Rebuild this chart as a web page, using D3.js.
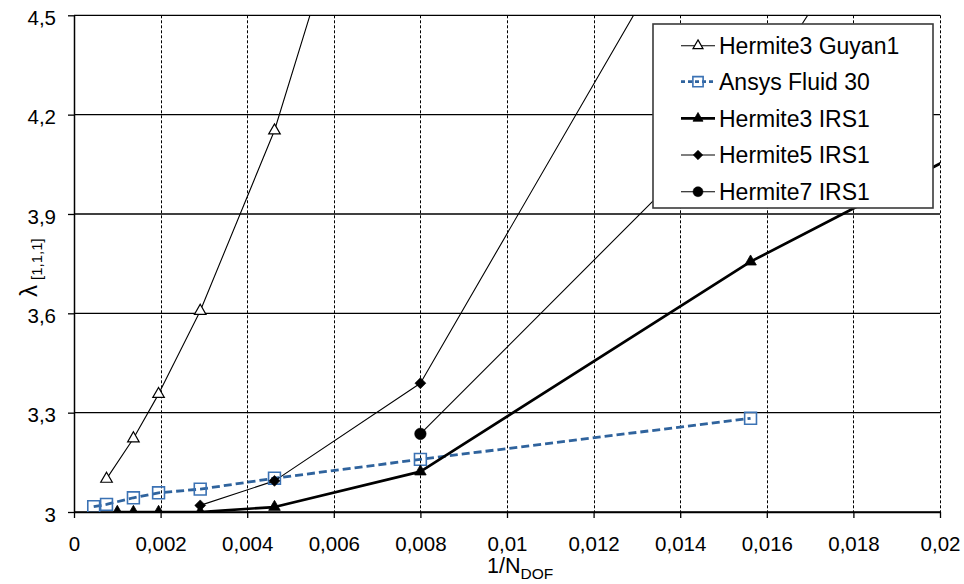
<!DOCTYPE html>
<html>
<head>
<meta charset="utf-8">
<script src="https://cdn.jsdelivr.net/npm/d3@7/dist/d3.min.js"></script>
<style>
  html, body { margin: 0; padding: 0; background: #fff; }
  svg { display: block; font-family: "Liberation Sans", Arial, sans-serif; }
</style>
</head>
<body>
<svg id="chart" width="964" height="584"></svg>
<script>
// Mesh refinement study: eigenvalue λ[1,1,1] vs 1/N_DOF
const xTickValues = [0, 0.002, 0.004, 0.006, 0.008, 0.01, 0.012, 0.014, 0.016, 0.018, 0.02];
const xTickLabels = ["0", "0,002", "0,004", "0,006", "0,008", "0,01", "0,012", "0,014", "0,016", "0,018", "0,02"];
const yTickValues = [3, 3.3, 3.6, 3.9, 4.2, 4.5];
const yTickLabels = ["3", "3,3", "3,6", "3,9", "4,2", "4,5"];

const guyanX = [0.000751, 0.001372, 0.001953, 0.002915, 0.00463, 0.008];
const guyanY = [3.100, 3.222, 3.356, 3.607, 4.152, 5.584];

const ansysX = [0.000455, 0.000751, 0.001372, 0.001953, 0.002915, 0.00463, 0.008, 0.015625];
const ansysY = [3.016, 3.023, 3.043, 3.058, 3.069, 3.102, 3.159, 3.283];

const h3irsX = [0.001, 0.001372, 0.001953, 0.002915, 0.00463, 0.008, 0.015625, 0.037037];
const h3irsY = [3.000, 3.000, 3.000, 3.000, 3.015, 3.122, 3.756, 5.205];

const h5irsX = [0.002915, 0.00463, 0.008, 0.015625];
const h5irsY = [3.020, 3.094, 3.389, 5.110];

const h7irsX = [0.008, 0.015625, 0.037037];
const h7irsY = [3.236, 4.234, 8.550];

const seriesNames = ["Hermite3 Guyan1", "Ansys Fluid 30", "Hermite3 IRS1", "Hermite5 IRS1", "Hermite7 IRS1"];

const blueLine = "#2f639d";
const blueMark = "#3b72b4";

// Diamond drawn as a square turned by 45°
const symbolRhomb = {
  draw(context, size) {
    const r = Math.sqrt(size / 2);
    context.moveTo(0, -r);
    context.lineTo(r, 0);
    context.lineTo(0, r);
    context.lineTo(-r, 0);
    context.closePath();
  }
};

const series = [
  { name: seriesNames[0], xs: guyanX, ys: guyanY, stroke: "#000", width: 1.1, dash: null,
    symbol: d3.symbolTriangle, size: 58, fill: "#fff", mstroke: "#000", mwidth: 1.2 },
  { name: seriesNames[1], xs: ansysX, ys: ansysY, stroke: blueLine, width: 2.8, dash: "8,4",
    symbol: d3.symbolSquare, size: 140, fill: "none", mstroke: blueMark, mwidth: 1.6 },
  { name: seriesNames[2], xs: h3irsX, ys: h3irsY, stroke: "#000", width: 2.7, dash: null,
    symbol: d3.symbolTriangle, size: 58, fill: "#000", mstroke: "#000", mwidth: 0.8 },
  { name: seriesNames[3], xs: h5irsX, ys: h5irsY, stroke: "#000", width: 1.1, dash: null,
    symbol: symbolRhomb, size: 60, fill: "#000", mstroke: "#000", mwidth: 0.6 },
  { name: seriesNames[4], xs: h7irsX, ys: h7irsY, stroke: "#000", width: 1.1, dash: null,
    symbol: d3.symbolCircle, size: 105, fill: "#000", mstroke: "#000", mwidth: 0.5 }
];

const svg = d3.select("#chart");
const plot = { left: 74, right: 940, top: 15.3, bottom: 512 };

const x = d3.scaleLinear().domain([0, 0.02]).range([plot.left, plot.right]);
const y = d3.scaleLinear().domain([3, 4.5]).range([plot.bottom, plot.top]);

svg.append("defs").append("clipPath").attr("id", "plotClip")
  .append("rect")
  .attr("x", plot.left).attr("y", plot.top)
  .attr("width", plot.right - plot.left).attr("height", plot.bottom - plot.top);

// Vertical dashed grid
svg.append("g").selectAll("line")
  .data(xTickValues.filter(v => v > 0))
  .join("line")
  .attr("x1", d => Math.round(x(d)) + 0.5).attr("x2", d => Math.round(x(d)) + 0.5)
  .attr("y1", plot.top).attr("y2", plot.bottom)
  .attr("stroke", "#000").attr("stroke-width", 1).attr("stroke-dasharray", "3,2");

// Horizontal solid grid
svg.append("g").selectAll("line")
  .data(yTickValues)
  .join("line")
  .attr("x1", plot.left).attr("x2", plot.right)
  .attr("y1", d => y(d)).attr("y2", d => y(d))
  .attr("stroke", "#000").attr("stroke-width", 1.3);

// Axes
const xAxis = d3.axisBottom(x)
  .tickValues(xTickValues)
  .tickFormat((d, i) => xTickLabels[i])
  .tickSizeInner(6).tickSizeOuter(0).tickPadding(18);
const gx = svg.append("g").attr("transform", `translate(0,${plot.bottom})`).call(xAxis);
gx.select(".domain").attr("stroke", "#000").attr("stroke-width", 1.5);
gx.selectAll(".tick line").attr("stroke", "#000").attr("stroke-width", 1.3);
gx.selectAll(".tick text").attr("font-size", 20.5).attr("fill", "#000")
  .attr("font-family", "Liberation Sans, Arial, sans-serif");

const yAxis = d3.axisLeft(y)
  .tickValues(yTickValues)
  .tickFormat((d, i) => yTickLabels[i])
  .tickSizeInner(6).tickSizeOuter(0).tickPadding(12);
const gy = svg.append("g").attr("transform", `translate(${plot.left},0)`).call(yAxis);
gy.select(".domain").attr("stroke", "#000").attr("stroke-width", 1.5);
gy.selectAll(".tick line").attr("stroke", "#000").attr("stroke-width", 1.3);
gy.selectAll(".tick text").attr("font-size", 20.5).attr("fill", "#000")
  .attr("dy", "0.45em")
  .attr("font-family", "Liberation Sans, Arial, sans-serif");

// Series lines and markers
const layer = svg.append("g").attr("clip-path", "url(#plotClip)");
const lineGen = d3.line().x(d => x(d[0])).y(d => y(d[1]));

series.forEach(s => {
  const pts = s.xs.map((v, i) => [v, s.ys[i]]);
  layer.append("path")
    .datum(pts)
    .attr("d", lineGen)
    .attr("fill", "none")
    .attr("stroke", s.stroke)
    .attr("stroke-width", s.width)
    .attr("stroke-dasharray", s.dash)
    .attr("stroke-linejoin", "round");
});
series.forEach(s => {
  const pts = s.xs.map((v, i) => [v, s.ys[i]]);
  layer.append("g").selectAll("path")
    .data(pts)
    .join("path")
    .attr("transform", d => `translate(${x(d[0])},${y(d[1])})`)
    .attr("d", d3.symbol().type(s.symbol).size(s.size))
    .attr("fill", s.fill)
    .attr("stroke", s.mstroke)
    .attr("stroke-width", s.mwidth);
});

// Axis titles
const yt = svg.append("text")
  .attr("transform", "translate(37,297) rotate(-90)")
  .attr("fill", "#000");
yt.append("tspan").attr("font-size", 24).text("λ");
yt.append("tspan").attr("font-size", 15).attr("dx", 5).attr("dy", 5).text("[1,1,1]");

const xt = svg.append("text")
  .attr("x", 487).attr("y", 573)
  .attr("fill", "#000");
xt.append("tspan").attr("font-size", 21.5).text("1/N");
xt.append("tspan").attr("font-size", 15.5).attr("dy", 6).text("DOF");

// Legend
const lg = svg.append("g");
lg.append("rect")
  .attr("x", 653).attr("y", 24).attr("width", 280).attr("height", 184)
  .attr("fill", "#fff").attr("stroke", "#3a3a3a").attr("stroke-width", 1.6);

const rowY = [45.7, 81.7, 118.3, 155, 191.7];
series.forEach((s, i) => {
  const g = lg.append("g").attr("transform", `translate(0,${rowY[i]})`);
  g.append("line")
    .attr("x1", 681).attr("x2", 715).attr("y1", 0).attr("y2", 0)
    .attr("stroke", s.stroke).attr("stroke-width", s.width)
    .attr("stroke-dasharray", s.dash ? "4,3" : null);
  g.append("path")
    .attr("transform", "translate(698,0)")
    .attr("d", d3.symbol().type(s.symbol).size(s.size * 0.75))
    .attr("fill", s.fill).attr("stroke", s.mstroke).attr("stroke-width", s.mwidth);
  g.append("text")
    .attr("x", 719).attr("y", 0).attr("dy", "0.36em")
    .attr("font-size", 23).attr("fill", "#000")
    .text(s.name);
});
</script>
</body>
</html>
